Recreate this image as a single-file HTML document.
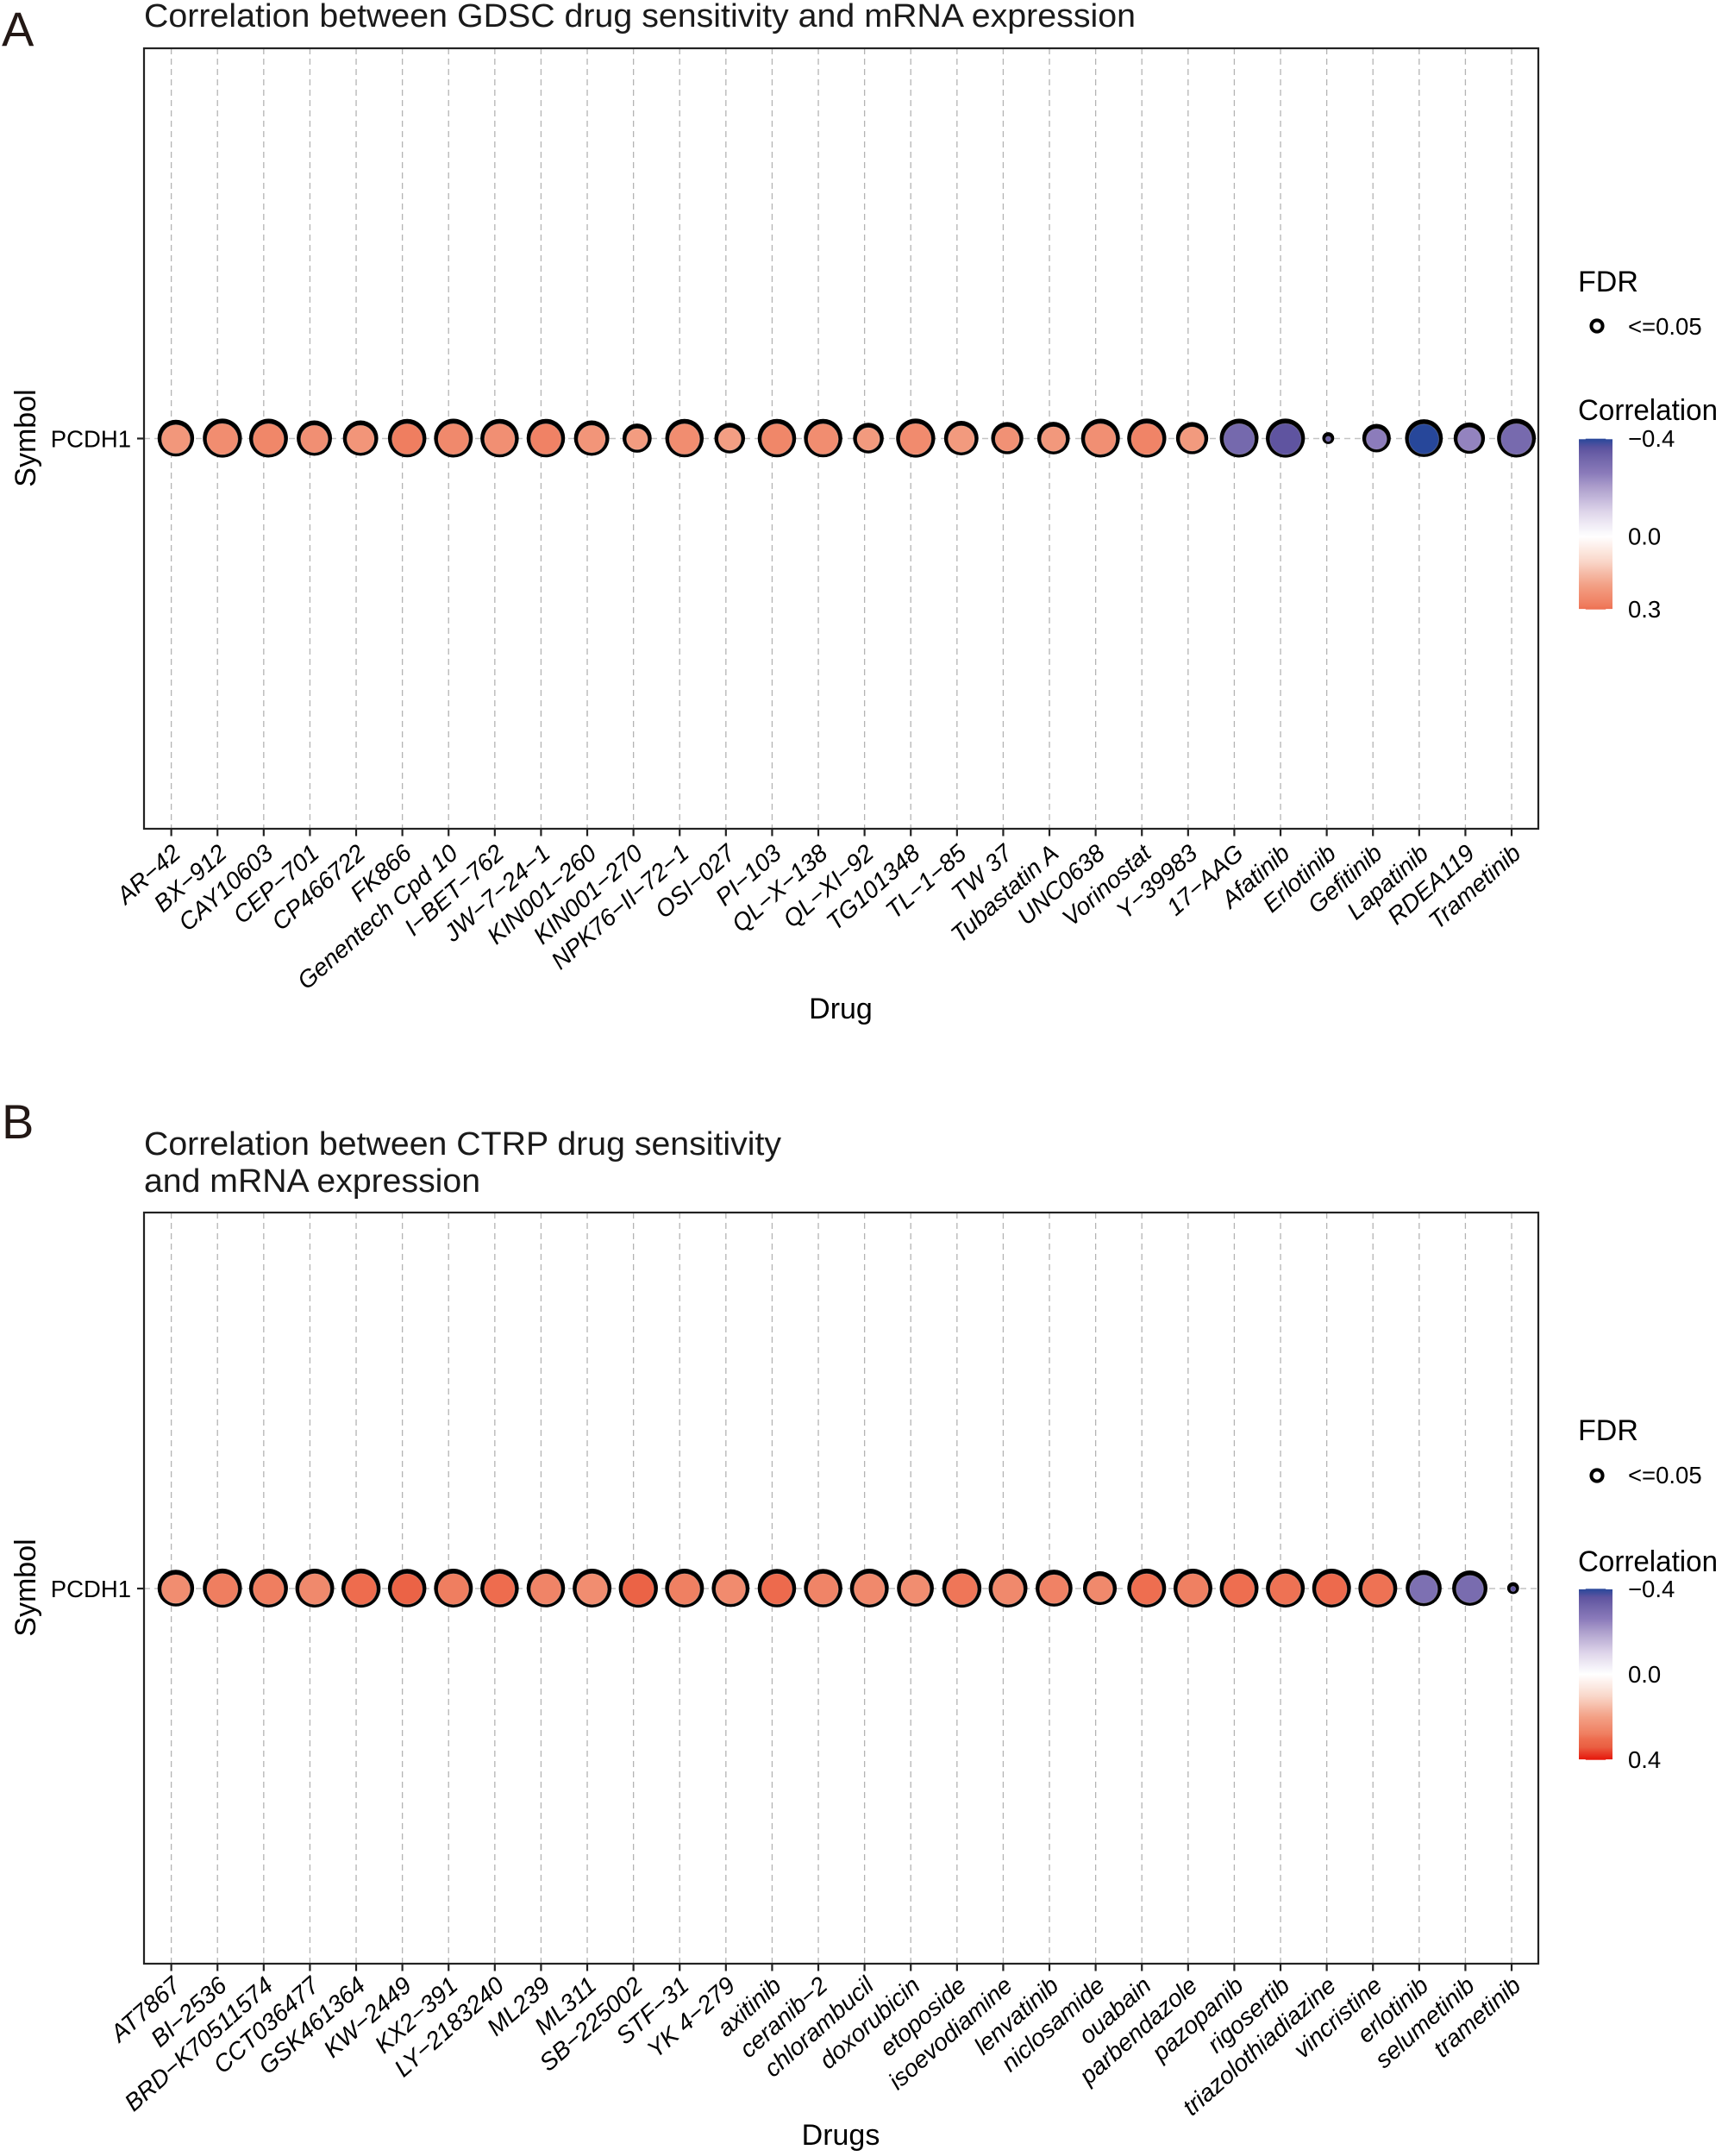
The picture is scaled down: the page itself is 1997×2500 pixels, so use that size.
<!DOCTYPE html>
<html lang="en">
<head>
<meta charset="utf-8">
<title>Correlation between drug sensitivity and mRNA expression</title>
<style>
html,body{margin:0;padding:0;background:#fff;}
svg{display:block;}
text{font-family:"Liberation Sans",Arial,sans-serif;fill:#000;}
.xl{font-size:28.2px;font-style:italic;}
.tt{font-size:38px;fill:#1a1a1a;}
.ax{font-size:34px;}
.tk{font-size:27.5px;}
.pl{font-size:56px;fill:#231815;}
</style>
</head>
<body>
<svg id="chart" xmlns="http://www.w3.org/2000/svg" width="1997" height="2500" viewBox="0 0 1997 2500">
<rect x="0" y="0" width="1997" height="2500" fill="#fff"/>
<defs id="defs"></defs>
<text class="pl" x="2" y="53">A</text>
<text class="tt" x="167" y="31" textLength="1150" lengthAdjust="spacingAndGlyphs">Correlation between GDSC drug sensitivity and mRNA expression</text>
<text class="ax" transform="translate(41 508) rotate(-90)" text-anchor="middle">Symbol</text>
<text class="ax" x="975" y="1181" text-anchor="middle">Drug</text>
<text class="ax" x="1830" y="338">FDR</text>
<text class="tk" x="1888" y="388">&lt;=0.05</text>
<text class="ax" x="1830" y="487" textLength="162" lengthAdjust="spacingAndGlyphs">Correlation</text>

<text class="pl" x="2" y="1320">B</text>
<text class="tt" x="167" y="1339" textLength="739" lengthAdjust="spacingAndGlyphs">Correlation between CTRP drug sensitivity</text>
<text class="tt" x="167" y="1382" textLength="390" lengthAdjust="spacingAndGlyphs">and mRNA expression</text>
<text class="ax" transform="translate(41 1841) rotate(-90)" text-anchor="middle">Symbol</text>
<text class="ax" x="975" y="2487" text-anchor="middle">Drugs</text>
<text class="ax" x="1830" y="1670">FDR</text>
<text class="tk" x="1888" y="1720">&lt;=0.05</text>
<text class="ax" x="1830" y="1822" textLength="162" lengthAdjust="spacingAndGlyphs">Correlation</text>
</svg>
<script>
var gdscDrugs = ["AR−42","BX−912","CAY10603","CEP−701","CP466722","FK866","Genentech Cpd 10","I−BET−762","JW−7−24−1","KIN001−260","KIN001−270","NPK76−II−72−1","OSI−027","PI−103","QL−X−138","QL−XI−92","TG101348","TL−1−85","TW 37","Tubastatin A","UNC0638","Vorinostat","Y−39983","17−AAG","Afatinib","Erlotinib","Gefitinib","Lapatinib","RDEA119","Trametinib"];
var gdscCorrelation = [0.222,0.245,0.26,0.24,0.225,0.28,0.255,0.24,0.27,0.225,0.21,0.245,0.205,0.26,0.245,0.215,0.25,0.215,0.235,0.22,0.24,0.265,0.215,-0.31,-0.36,-0.33,-0.256,-0.4,-0.245,-0.305];
var gdscMinusLogFdr = [9.0,9.8,9.7,8.6,8.6,9.6,9.7,9.6,9.6,8.6,6.6,9.6,7.1,9.6,9.6,7.1,9.8,8.3,7.6,7.7,9.7,9.8,7.6,9.7,9.8,1.05,6.4,9.4,7.3,9.7];
var gdscColorbarTicks = [-0.4,0,0.3];
var gdscColorbarLabels = ["−0.4","0.0","0.3"];

var ctrpDrugs = ["AT7867","BI−2536","BRD−K70511574","CCT036477","GSK461364","KW−2449","KX2−391","LY−2183240","ML239","ML311","SB−225002","STF−31","YK 4−279","axitinib","ceranib−2","chlorambucil","doxorubicin","etoposide","isoevodiamine","lenvatinib","niclosamide","ouabain","parbendazole","pazopanib","rigosertib","triazolothiadiazine","vincristine","erlotinib","selumetinib","trametinib"];
var ctrpCorrelation = [0.245,0.28,0.28,0.255,0.305,0.33,0.28,0.305,0.265,0.245,0.33,0.275,0.25,0.31,0.265,0.255,0.245,0.29,0.255,0.27,0.255,0.3,0.275,0.3,0.295,0.31,0.295,-0.29,-0.3,-0.36];
var ctrpMinusLogFdr = [9.0,9.8,9.7,9.7,9.8,9.6,9.7,9.6,9.6,9.7,9.8,9.7,9.4,9.6,9.6,9.7,9.1,9.8,9.7,9.1,8.1,9.7,9.7,9.7,9.7,9.7,9.7,8.8,8.6,1.05];
var ctrpColorbarTicks = [-0.4,0,0.4];
var ctrpColorbarLabels = ["−0.4","0.0","0.4"];

var NS = "http://www.w3.org/2000/svg";
var svg = document.getElementById("chart");
var defs = document.getElementById("defs");

function colorScale(v){
  var t=Math.min(1,Math.abs(v)/0.4);
  var ramp=v<0
    ?[[0,"#ffffff"],[0.25,"#ded5ea"],[0.5,"#ad9fcc"],[0.65,"#8a7aba"],[0.78,"#7468ac"],[0.9,"#5f54a0"],[1,"#27479a"]]
    :[[0,"#ffffff"],[0.25,"#f9d8cb"],[0.5,"#f3a085"],[0.7,"#ef7e60"],[0.75,"#ee6e50"],[0.85,"#ea5f42"],[1,"#e6150a"]];
  for(var i=1;i<ramp.length;i++){
    if(t<=ramp[i][0]){
      var f=(t-ramp[i-1][0])/(ramp[i][0]-ramp[i-1][0]),a=ramp[i-1][1],b=ramp[i][1],out="#";
      [1,3,5].forEach(function(p){
        var c=Math.round(parseInt(a.substr(p,2),16)*(1-f)+parseInt(b.substr(p,2),16)*f).toString(16);
        out+=c.length<2?"0"+c:c;
      });
      return out;
    }
  }
  return ramp[ramp.length-1][1];
}
function diameterScale(v){return 10+3.6*v;}

function make(tag,attrs,parent){
  var el=document.createElementNS(NS,tag);
  for(var k in attrs){el.setAttribute(k,attrs[k]);}
  (parent||svg).appendChild(el);
  return el;
}

function drawPanel(id,box,drugs,correlation,minusLogFdr,barBox,barTicks,barLabels,legendDotY,labelGap){
  var step=53.6;
  var first=box.left+0.59*step;
  function x(i){return first+i*step;}
  var rowY=box.rowY;

  var g=make("g",{});
  
  

  var bg=make("rect",{x:box.left,y:box.top,width:box.right-box.left,height:box.bottom-box.top,fill:"#fff"},g);
  
  

  drugs.forEach(function(name,i){
    var gl=make("line",{x1:x(i),x2:x(i),y1:box.top,y2:box.bottom,stroke:"#b4b4b4","stroke-width":1.3,"stroke-dasharray":"7 5"},g);
    
    
  });
  var hl=make("line",{x1:box.left,x2:box.right,y1:rowY,y2:rowY,stroke:"#c4c4c4","stroke-width":1.6,"stroke-dasharray":"7 5"},g);
  
  

  var border=make("rect",{x:box.left,y:box.top,width:box.right-box.left,height:box.bottom-box.top,fill:"none",stroke:"#222","stroke-width":2.2},g);
  
  

  var yt=make("line",{x1:box.left-8,x2:box.left,y1:rowY,y2:rowY,stroke:"#222","stroke-width":2.2},g);
  
  
  var yl=make("text",{x:152,y:rowY+10,"text-anchor":"end","class":"tk"},g);
  yl.textContent="PCDH1";
  
  

  drugs.forEach(function(name,i){
    var t=make("line",{x1:x(i),x2:x(i),y1:box.bottom,y2:box.bottom+8.5,stroke:"#222","stroke-width":2.2},g);
    
    
    var lx=x(i)+12.5,ly=box.bottom+labelGap;
    var l=make("text",{"class":"xl","text-anchor":"end",transform:"translate("+lx+" "+ly+") rotate(-41.5)"},g);
    l.textContent=name;
    
    
  });

  drugs.forEach(function(name,i){
    var d=diameterScale(minusLogFdr[i]);
    var cx=x(i)+d*0.125,cy=rowY-0.5;
    var ring=make("circle",{cx:cx,cy:cy,r:d/2,fill:"#000"},g);
    
    
    var band=Math.min(4.6,d*0.28);
    var fill=make("circle",{cx:cx,cy:cy+band*0.24,r:d/2-band,fill:colorScale(correlation[i]),stroke:"#fff","stroke-opacity":0.2,"stroke-width":1},g);
    
    
  });

  var dot=make("circle",{cx:1852,cy:legendDotY,r:6.6,fill:"#fff",stroke:"#000","stroke-width":4},g);
  
  

  var lo=barTicks[0],hi=barTicks[barTicks.length-1];
  function barY(v){return barBox.top+(v-lo)/(hi-lo)*(barBox.bottom-barBox.top);}
  var gid=id+"-gradient";
  var grad=make("linearGradient",{id:gid,x1:0,y1:0,x2:0,y2:1},defs);
  for(var s=0;s<=40;s++){
    var v=lo+(hi-lo)*s/40;
    make("stop",{offset:(s/40*100)+"%","stop-color":colorScale(v)},grad);
  }
  var bar=make("rect",{x:barBox.left,y:barBox.top,width:barBox.width,height:barBox.bottom-barBox.top,fill:"url(#"+gid+")"},g);
  
  

  barTicks.forEach(function(v,i){
    var y=barY(v);
    [[barBox.left,barBox.left+7.8],[barBox.left+barBox.width-7.8,barBox.left+barBox.width]].forEach(function(p){
      var tick=make("line",{x1:p[0],x2:p[1],y1:y,y2:y,stroke:"#fff","stroke-width":1.2},g);
      
      
    });
    var lab=make("text",{x:1888,y:y+9.5,"class":"tk"},g);
    lab.textContent=barLabels[i];
    
    
  });
}

drawPanel("panel-a",{left:167,right:1784,top:56,bottom:961,rowY:508.5},gdscDrugs,gdscCorrelation,gdscMinusLogFdr,{left:1831,width:39,top:508.7,bottom:706.7},gdscColorbarTicks,gdscColorbarLabels,378,31);
drawPanel("panel-b",{left:167,right:1784,top:1406,bottom:2277,rowY:1842},ctrpDrugs,ctrpCorrelation,ctrpMinusLogFdr,{left:1831,width:39,top:1842.3,bottom:2040.7},ctrpColorbarTicks,ctrpColorbarLabels,1711,28);
</script>
</body>
</html>
